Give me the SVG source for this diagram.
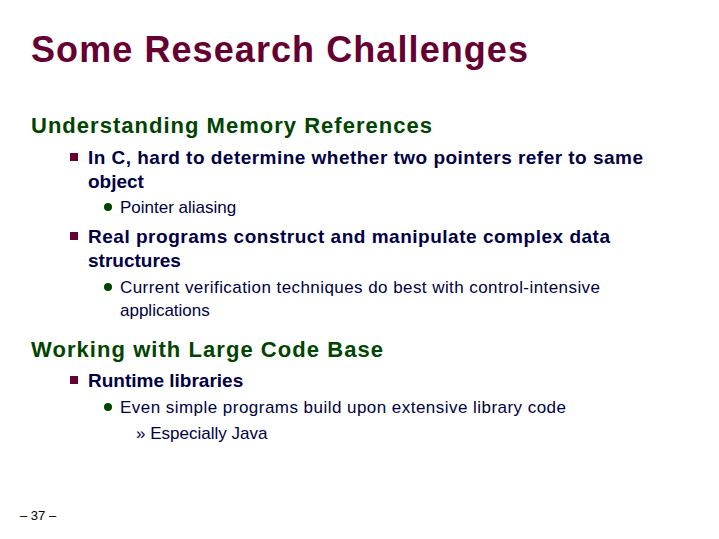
<svg xmlns="http://www.w3.org/2000/svg" width="719" height="539" viewBox="0 0 719 539">
<style>
text{font-family:"Liberation Sans",Arial,sans-serif}
.t{font-size:36px;font-weight:bold;fill:#660033}
.h{font-size:22px;font-weight:bold;fill:#004400}
.b1{font-size:19px;font-weight:bold;fill:#000044}
.b2{font-size:17px;fill:#000044}
.sq{fill:#660033}
.dot{fill:#004400}
</style>
<rect width="719" height="539" fill="#fff"/>
<text class="t" x="31" y="62" textLength="497">Some Research Challenges</text>
<text class="h" x="31" y="133" textLength="401">Understanding Memory References</text>
<rect class="sq" x="70" y="153" width="8" height="8"/>
<text class="b1" x="88" y="164" textLength="555">In C, hard to determine whether two pointers refer to same</text>
<text class="b1" x="88" y="188">object</text>
<circle class="dot" cx="108" cy="207" r="4"/>
<text class="b2" x="120" y="213">Pointer aliasing</text>
<rect class="sq" x="70" y="232" width="8" height="8"/>
<text class="b1" x="88" y="243" textLength="522">Real programs construct and manipulate complex data</text>
<text class="b1" x="88" y="267">structures</text>
<circle class="dot" cx="108" cy="287" r="4"/>
<text class="b2" x="120" y="293" textLength="480">Current verification techniques do best with control-intensive</text>
<text class="b2" x="120" y="316">applications</text>
<text class="h" x="31" y="357" textLength="352">Working with Large Code Base</text>
<rect class="sq" x="70" y="376" width="8" height="8"/>
<text class="b1" x="88" y="387">Runtime libraries</text>
<circle class="dot" cx="108" cy="407" r="4"/>
<text class="b2" x="120" y="413" textLength="446">Even simple programs build upon extensive library code</text>
<text class="b2" x="136" y="439">» Especially Java</text>
<text x="20" y="520" font-size="13" fill="#000">– 37 –</text>
</svg>
